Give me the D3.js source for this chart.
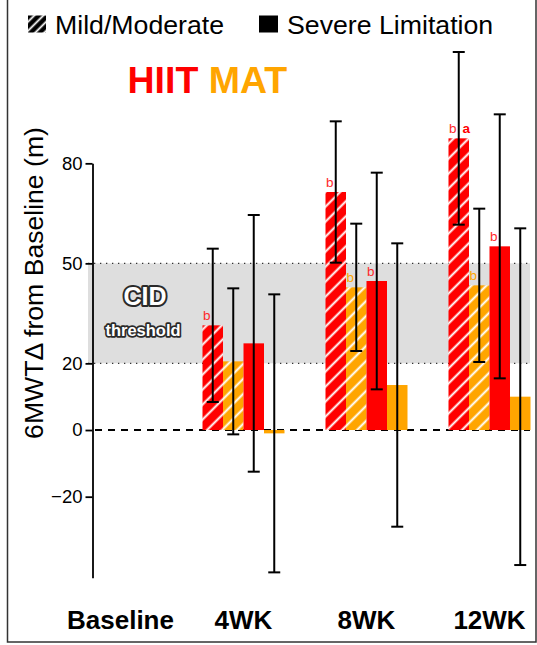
<!DOCTYPE html>
<html><head><meta charset="utf-8">
<script src="https://cdn.jsdelivr.net/npm/d3@7"></script>
<style>
html,body{margin:0;padding:0;background:#fff;}
svg{display:block;font-family:"Liberation Sans",Arial,Helvetica,sans-serif;}
</style></head>
<body><svg id="c" width="537" height="645"></svg>
<script>
// ---- data ----
const categories = ["Baseline", "4WK", "8WK", "12WK"];
const timepoints = ["4WK", "8WK", "12WK"];
const seriesNames = ["HIIT Mild/Moderate", "MAT Mild/Moderate", "HIIT Severe", "MAT Severe"];
const hiitMild = [31.4, 71.4, 87.5];
const hiitMildErr = [23.0, 21.2, 25.9];
const matMild = [20.6, 42.8, 43.4];
const matMildErr = [21.9, 19.1, 23.0];
const hiitSevere = [26.0, 44.7, 55.1];
const hiitSevereErr = [38.5, 32.5, 39.6];
const matSevere = [-1.0, 13.5, 10.0];
const matSevereErr = [41.7, 42.5, 50.5];
const hiitMildLetters = ["b", "b", "b"];
const hiitMildLetters2 = ["", "", "a"];
const matMildLetters = ["", "b", "b"];
const hiitSevereLetters = ["", "b", "b"];
const yTicks = [80, 50, 20, 0, -20];
const cidBand = [20, 50];

const RED = "#ff0000", ORANGE = "#ffa500";
const series = [
  {name: seriesNames[0], vals: hiitMild, err: hiitMildErr, color: RED, hatch: true, letters: hiitMildLetters, letters2: hiitMildLetters2, lc: "#ff2a2a"},
  {name: seriesNames[1], vals: matMild, err: matMildErr, color: ORANGE, hatch: true, letters: matMildLetters, lc: "#ffa500"},
  {name: seriesNames[2], vals: hiitSevere, err: hiitSevereErr, color: RED, hatch: false, letters: hiitSevereLetters, lc: "#ff2a2a"},
  {name: seriesNames[3], vals: matSevere, err: matSevereErr, color: ORANGE, hatch: false, letters: null}
];

const svg = d3.select("#c");
const defs = svg.append("defs");
function hatch(id, bg, sp, sw) {
  const p = defs.append("pattern").attr("id", id).attr("patternUnits", "userSpaceOnUse")
    .attr("width", sp).attr("height", sp).attr("patternTransform", "rotate(45)");
  p.append("rect").attr("width", sp).attr("height", sp).attr("fill", bg);
  p.append("line").attr("x1", sp/2).attr("x2", sp/2).attr("y1", -1).attr("y2", sp+1)
    .attr("stroke", "#fff").attr("stroke-width", sw);
}
hatch("hRed", RED, 10.6, 2);
hatch("hOrange", ORANGE, 10.6, 2);
hatch("hBlack", "#000", 6.4, 1.8);

// scales
const x = d3.scaleBand().domain(categories).range([59, 551]).padding(0);
const xs = d3.scaleBand().domain(seriesNames).range([-41, 41]).padding(0);
const y = d3.scaleLinear().domain([-44.3, 80]).range([577.7, 163.33]);

// frame
svg.append("rect").attr("x", 7.5).attr("y", -5).attr("width", 528.5).attr("height", 647)
  .attr("fill", "none").attr("stroke", "#333").attr("stroke-width", 1.5);

// CID band
const bandX0 = 88, bandX1 = 530;
svg.append("rect").attr("x", bandX0).attr("y", y(cidBand[1])).attr("width", bandX1 - bandX0)
  .attr("height", y(cidBand[0]) - y(cidBand[1])).attr("fill", "#dedede");
cidBand.forEach(v => {
  svg.append("line").attr("x1", bandX0).attr("x2", bandX1).attr("y1", y(v)).attr("y2", y(v))
    .attr("stroke", "#333").attr("stroke-width", 1.3).attr("stroke-dasharray", "1.3,4.7");
});
svg.append("text").attr("x", 145).attr("y", 305).attr("text-anchor", "middle")
  .attr("font-size", 25).attr("font-weight", "bold").attr("fill", "#fff")
  .attr("stroke", "#2a2a2a").attr("stroke-width", 4).attr("stroke-linejoin", "round").attr("paint-order", "stroke")
  .text("CID");
svg.append("text").attr("x", 143).attr("y", 336).attr("text-anchor", "middle")
  .attr("font-size", 16.5).attr("font-weight", "bold").attr("fill", "#fff")
  .attr("stroke", "#2a2a2a").attr("stroke-width", 3.4).attr("stroke-linejoin", "round").attr("paint-order", "stroke")
  .text("threshold");

// zero line
svg.append("line").attr("x1", 95).attr("x2", 530).attr("y1", y(0)).attr("y2", y(0))
  .attr("stroke", "#000").attr("stroke-width", 1.8).attr("stroke-dasharray", "7,6");

// bars
const g = svg.append("g");
series.forEach(s => {
  timepoints.forEach((t, i) => {
    const v = s.vals[i];
    const bx = x(t) + x.bandwidth()/2 + xs(s.name);
    g.append("rect").attr("x", bx).attr("width", xs.bandwidth())
      .attr("y", y(Math.max(0, v))).attr("height", Math.abs(y(v) - y(0)))
      .attr("fill", s.hatch ? (s.color === RED ? "url(#hRed)" : "url(#hOrange)") : s.color);
  });
});
// error bars
series.forEach(s => {
  timepoints.forEach((t, i) => {
    const v = s.vals[i], e = s.err[i];
    const cx = x(t) + x.bandwidth()/2 + xs(s.name) + xs.bandwidth()/2;
    const eg = g.append("g").attr("stroke", "#000").attr("stroke-width", 2);
    eg.append("line").attr("x1", cx).attr("x2", cx).attr("y1", y(v + e)).attr("y2", y(v - e));
    [v + e, v - e].forEach(w => eg.append("line").attr("x1", cx - 6).attr("x2", cx + 6)
      .attr("y1", y(w)).attr("y2", y(w)));
  });
});
// letters
series.forEach(s => {
  if (!s.letters) return;
  timepoints.forEach((t, i) => {
    const v = s.vals[i];
    const cx = x(t) + x.bandwidth()/2 + xs(s.name) + xs.bandwidth()/2;
    if (s.letters[i]) g.append("text").attr("x", cx - 6).attr("y", y(v) - 5)
      .attr("text-anchor", "middle").attr("font-size", 13.5).attr("fill", s.lc).text(s.letters[i]);
    if (s.letters2 && s.letters2[i]) g.append("text").attr("x", cx + 7.5).attr("y", y(v) - 5)
      .attr("text-anchor", "middle").attr("font-size", 13.5).attr("font-weight", "bold")
      .attr("fill", RED).text(s.letters2[i]);
  });
});

// y axis
const ax = svg.append("g").attr("transform", "translate(92.5,0)")
  .call(d3.axisLeft(y).tickValues(yTicks).tickSize(7).tickSizeOuter(0).tickPadding(3));
ax.select(".domain").attr("stroke", "#000").attr("stroke-width", 1.8);
ax.selectAll(".tick line").attr("stroke", "#000").attr("stroke-width", 1.8);
ax.selectAll(".tick text").attr("font-size", 18.5).attr("fill", "#000")
  .attr("font-family", "Liberation Sans, Arial, sans-serif");

svg.append("text").attr("transform", "translate(43,283) rotate(-90)").attr("text-anchor", "middle")
  .attr("font-size", 26.6).attr("fill", "#000").text("6MWTΔ from Baseline (m)");

// x labels
svg.append("g").selectAll("text").data(categories).join("text")
  .attr("x", d => x(d) + x.bandwidth()/2).attr("y", 629).attr("text-anchor", "middle")
  .attr("font-size", 26).attr("font-weight", "bold").attr("fill", "#000").text(d => d);

// legend
svg.append("rect").attr("x", 28).attr("y", 15.5).attr("width", 18).attr("height", 17).attr("fill", "url(#hBlack)");
svg.append("text").attr("x", 55).attr("y", 34).attr("font-size", 26.7).text("Mild/Moderate");
svg.append("rect").attr("x", 259).attr("y", 15.5).attr("width", 19).attr("height", 17).attr("fill", "#000");
svg.append("text").attr("x", 287).attr("y", 34).attr("font-size", 26.7).text("Severe Limitation");

// HIIT MAT
const tt = svg.append("text").attr("x", 127.5).attr("y", 92.5).attr("font-size", 37.5).attr("font-weight", "bold");
tt.append("tspan").attr("fill", RED).text("HIIT");
tt.append("tspan").attr("fill", ORANGE).text(" MAT");
</script></body></html>
